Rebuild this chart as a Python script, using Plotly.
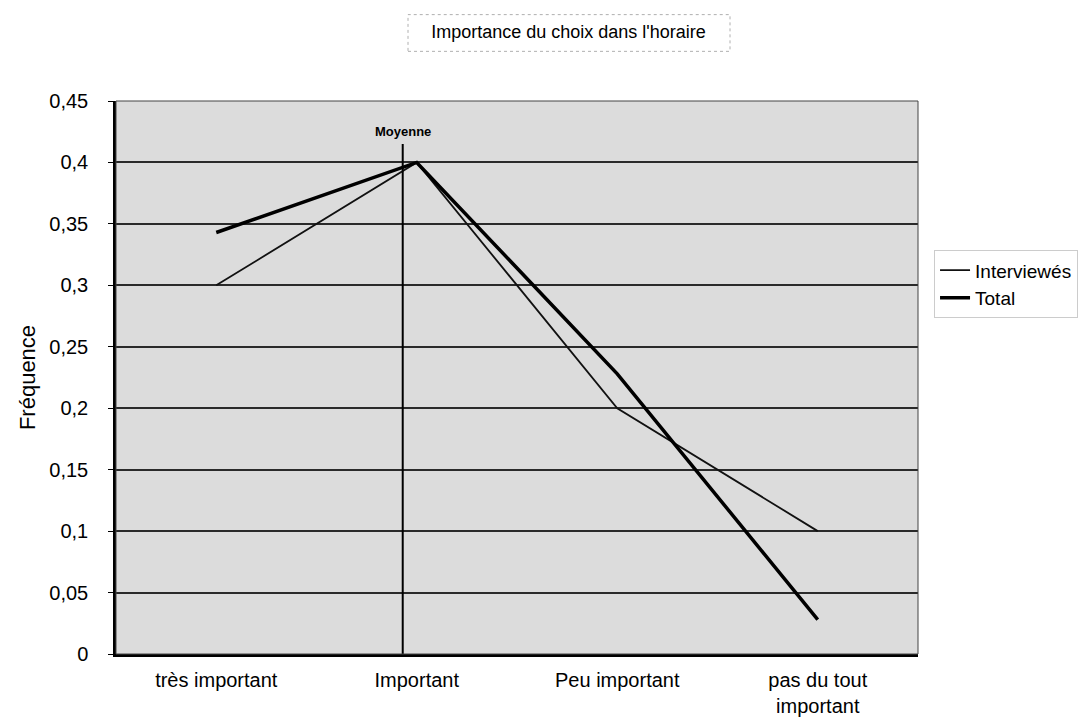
import plotly.graph_objects as go

categories = ["très important", "Important", "Peu important", "pas du tout<br>important"]
interviewes = [0.30, 0.40, 0.20, 0.10]
total = [0.343, 0.40, 0.228, 0.028]
moyenne_pos = 0.93  # position of the mean on the category axis
moyenne_top = 0.415
y_ticks = [0, 0.05, 0.1, 0.15, 0.2, 0.25, 0.3, 0.35, 0.4, 0.45]
y_ticktext = ["0", "0,05", "0,1", "0,15", "0,2", "0,25", "0,3", "0,35", "0,4", "0,45"]

FONT = "Liberation Sans, Arial, sans-serif"
xs = list(range(len(categories)))

fig = go.Figure()
fig.add_trace(go.Scatter(x=xs, y=interviewes, mode="lines", name="Interviewés",
                         line=dict(color="#111111", width=1.8)))
fig.add_trace(go.Scatter(x=xs, y=total, mode="lines", name="Total",
                         line=dict(color="#000000", width=3.5)))
fig.add_trace(go.Scatter(x=[moyenne_pos, moyenne_pos], y=[0, moyenne_top], mode="lines",
                         line=dict(color="#000000", width=2), showlegend=False, hoverinfo="skip"))

fig.add_annotation(x=moyenne_pos, y=moyenne_top, yshift=3, text="<b>Moyenne</b>", showarrow=False,
                   yanchor="bottom", font=dict(family=FONT, size=13, color="#000"))

fig.update_layout(
    width=1092, height=721,
    paper_bgcolor="white", plot_bgcolor="#dcdcdc",
    margin=dict(l=108, r=182, t=93, b=71),
    font=dict(family=FONT, size=20, color="#000"),
    title=dict(text="Importance du choix dans l'horaire", x=(408 + 713) / 2 / 1092, xanchor="center",
               y=1 - 24 / 721, yanchor="middle", font=dict(family=FONT, size=18, color="#000")),
    showlegend=True,
    legend=dict(x=1.02, xanchor="left", y=0.73, yanchor="top", bgcolor="white",
                bordercolor="#cccccc", borderwidth=1, font=dict(family=FONT, size=19),
                tracegroupgap=0, itemwidth=30),
    xaxis=dict(range=[-0.5, 3.5], tickvals=xs, ticktext=categories, showgrid=False,
               showline=True, linecolor="#000", linewidth=2.5, mirror=False, ticks="",
               zeroline=False, ticklabelstandoff=6, tickfont=dict(family=FONT, size=20)),
    yaxis=dict(range=[0, 0.45], tickvals=y_ticks, ticktext=y_ticktext, showgrid=True,
               gridcolor="#2a2a2a", gridwidth=1.5, showline=True, linecolor="#000",
               linewidth=2.5, ticks="outside", ticklen=5, tickcolor="#000", zeroline=False,
               ticklabelstandoff=16,
               title=dict(text="Fréquence", font=dict(family=FONT, size=22), standoff=8),
               tickfont=dict(family=FONT, size=20)),
)

# plot frame on top/right
fig.add_shape(type="rect", xref="paper", yref="paper", x0=0, y0=0, x1=1, y1=1,
              line=dict(color="#444", width=1), layer="above")
# title frame (dashed, faint)
fig.add_shape(type="rect", xref="paper", yref="paper",
              x0=(400 - 108) / 802, x1=(722 - 108) / 802,
              y0=(650 - 43) / 557, y1=(650 - 6) / 557,
              line=dict(color="#b0b0b0", width=1, dash="dot"))

fig.write_html("out.html")
